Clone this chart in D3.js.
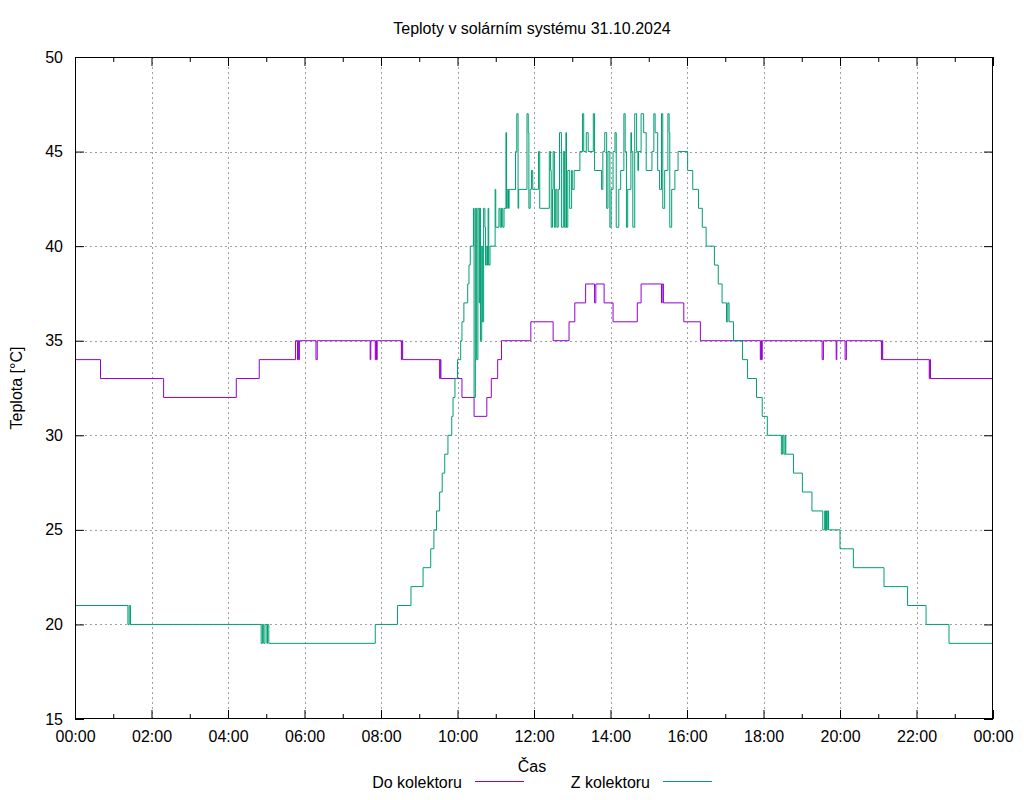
<!DOCTYPE html>
<html><head><meta charset="utf-8">
<script src="https://cdn.jsdelivr.net/npm/d3@7"></script>
<style>
body{margin:0;background:#fff}
svg text{font-family:"Liberation Sans",Arial,sans-serif;font-size:16px;fill:#000}
</style>
</head><body>
<svg id="chart" width="1024" height="800"></svg>
<script>
const chartTitle = "Teploty v solárním systému 31.10.2024";
const xTitle = "Čas";
const yTitle = "Teplota [°C]";
const seriesNames = ["Do kolektoru", "Z kolektoru"];
const seriesColors = ["#9400d3", "#009e73"];
const xTickMinutes = [0,120,240,360,480,600,720,840,960,1080,1200,1320,1440];
const xTickLabels = ["00:00","02:00","04:00","06:00","08:00","10:00","12:00","14:00","16:00","18:00","20:00","22:00","00:00"];
const xMinorMinutes = [60,180,300,420,540,660,780,900,1020,1140,1260,1380];
const yTicks = [15,20,25,30,35,40,45,50];

// Do kolektoru: minutes since midnight, temperature
const doTimes = [0,40,139,253,289,346,349,350,351,352,378,380,463,464,471,472,473,474,512,513,514,572,573,574,607,626,646,653,663,669,715,750,775,784,801,815,817,830,844,882,888,920,921,923,955,981,1075,1076,1077,1078,1172,1174,1194,1195,1208,1210,1265,1266,1267,1340,1341,1342,1440];
const doValues = [34,33,32,33,34,35,34,35,34,35,34,35,34,35,34,35,34,35,34,35,34,33,34,33,32,31,32,33,34,35,36,35,36,37,38,37,38,37,36,37,38,37,38,37,36,35,34,35,34,35,34,35,34,35,34,35,34,35,34,33,34,33,33];

// Z kolektoru: minutes since midnight, temperature
const zTimes = [0,83,85,87,292,294,296,298,301,302,304,471,506,527,546,558,563,567,572,576,580,585,591,593,596,600,605,607,610,616,618,620,
625,626,628,630,632,634,635,636,638,639,641,643,644,646,647,648,649,651,659,660,665,667,669,671,673,676,677,678,680,681,691,693,695,696,
709,711,712,714,716,718,727,729,744,746,747,749,750,752,754,756,758,760,763,766,768,770,771,773,776,779,780,783,792,796,798,802,805,
813,815,826,828,831,834,836,839,841,844,847,849,853,856,861,863,865,867,872,873,875,878,881,883,884,888,892,896,905,908,910,914,917,
920,922,925,930,932,933,936,941,946,961,969,978,984,990,1003,1009,1015,1022,1024,1026,1033,1047,1055,1069,1078,1086,1108,1110,1112,
1114,1115,1127,1141,1156,1173,1176,1177,1178,1179,1180,1182,1200,1221,1269,1306,1335,1371,1440];
const zValues = [21,20,21,20,19,20,19,20,19,20,19,20,21,22,23,24,25,26,27,28,29,30,31,32,33,34,35,36,37,38,39,40,
42,32,42,34,42,37,42,35,40,36,42,41,39,40,39,42,39,40,43,41,42,41,42,41,42,46,42,43,42,43,45,47,42,43,
47,46,42,43,44,43,45,42,45,44,41,43,45,41,43,41,43,46,41,45,41,46,41,44,42,44,43,44,45,47,45,46,45,
47,44,43,45,46,42,45,41,43,45,46,41,43,44,47,45,41,43,46,45,41,47,45,44,45,47,46,44,45,47,46,44,43,
47,42,44,47,46,41,43,44,45,44,43,42,41,40,39,38,37,36,37,36,35,34,33,32,31,30,29,30,29,
30,29,28,27,26,25,26,25,26,25,26,25,24,23,22,21,20,19,19];

const svg = d3.select("#chart");
const L = 75, R = 993, T = 57, B = 719;
const x = d3.scaleLinear().domain([0,1440]).range([L,R]);
const y = d3.scaleLinear().domain([15,50]).range([B,T]);

// grid
const grid = svg.append("g").attr("stroke","#a0a0a0").attr("stroke-width",1).attr("stroke-dasharray","2,3");
xTickMinutes.slice(1,-1).forEach(m=>{
  grid.append("line").attr("x1",Math.round(x(m))+0.5).attr("x2",Math.round(x(m))+0.5).attr("y1",T).attr("y2",B);
});
yTicks.slice(1,-1).forEach(v=>{
  grid.append("line").attr("y1",Math.round(y(v))+0.5).attr("y2",Math.round(y(v))+0.5).attr("x1",L).attr("x2",R);
});

// axes
function styleAxis(g){ g.select(".domain").remove(); g.selectAll("line").attr("stroke","#000"); g.selectAll("text").attr("font-family",null).attr("font-size",null).attr("fill","#000"); }
svg.append("g").attr("transform",`translate(0,${B})`)
  .call(d3.axisBottom(x).tickValues(xTickMinutes).tickFormat((d,i)=>xTickLabels[i]).tickSize(-9).tickPadding(12)).call(styleAxis);
svg.append("g").attr("transform",`translate(0,${B})`)
  .call(d3.axisBottom(x).tickValues(xMinorMinutes).tickFormat("").tickSize(-5)).call(styleAxis);
svg.append("g").attr("transform",`translate(0,${T})`)
  .call(d3.axisTop(x).tickValues(xTickMinutes).tickFormat("").tickSize(-9)).call(styleAxis);
svg.append("g").attr("transform",`translate(0,${T})`)
  .call(d3.axisTop(x).tickValues(xMinorMinutes).tickFormat("").tickSize(-5)).call(styleAxis);
svg.append("g").attr("transform",`translate(${L},0)`)
  .call(d3.axisLeft(y).tickValues(yTicks).tickFormat(d3.format("d")).tickSize(-9).tickPadding(12)).call(styleAxis);
svg.append("g").attr("transform",`translate(${R},0)`)
  .call(d3.axisRight(y).tickValues(yTicks).tickFormat("").tickSize(-9)).call(styleAxis);

// series
const line = d3.line().x(d=>x(d[0])).y(d=>y(d[1])).curve(d3.curveStepAfter);
const series = [d3.zip(doTimes, doValues), d3.zip(zTimes, zValues)];
series.forEach((s,i)=>{
  svg.append("path").datum(s).attr("d",line).attr("fill","none")
    .style("stroke",seriesColors[i]).attr("stroke-width",1);
});

// frame
svg.append("rect").attr("x",L+0.5).attr("y",T+0.5).attr("width",R-L-1).attr("height",B-T-1)
  .attr("fill","none").attr("stroke","#000").attr("stroke-width",1);

// titles
svg.append("text").attr("x",532).attr("y",34).attr("text-anchor","middle").text(chartTitle);
svg.append("text").attr("x",532).attr("y",772).attr("text-anchor","middle").text(xTitle);
svg.append("text").attr("transform","translate(22,388) rotate(-90)").attr("text-anchor","middle").text(yTitle);

// legend
const legX = [462, 650];
seriesNames.forEach((n,i)=>{
  svg.append("text").attr("x",legX[i]).attr("y",788).attr("text-anchor","end").text(n);
  svg.append("line").attr("x1",legX[i]+13).attr("x2",legX[i]+62).attr("y1",781.5).attr("y2",781.5)
    .style("stroke",seriesColors[i]).attr("stroke-width",1);
});
</script>
</body></html>
